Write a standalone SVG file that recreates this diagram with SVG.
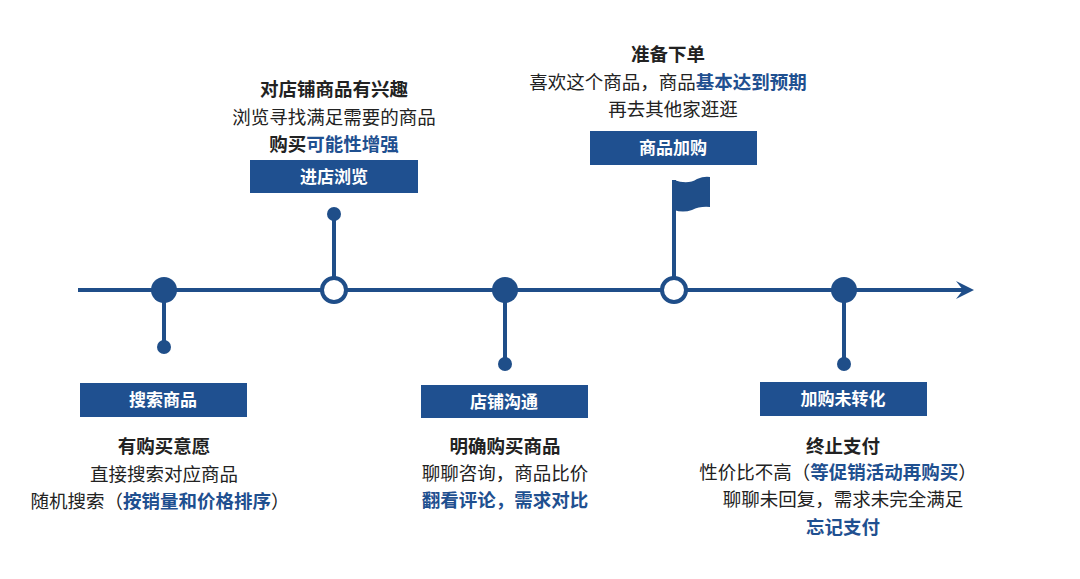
<svg xmlns="http://www.w3.org/2000/svg" width="1080" height="579" viewBox="0 0 1080 579">
<style>
.ln{stroke:#1f4e89;stroke-width:4;fill:none}
.dot{fill:#1f4e89}
.ring{fill:#fff;stroke:#1f4e89;stroke-width:4}
.box{fill:#1f5090}
.bt{fill:#fff;font:bold 17px "Noto Sans CJK SC",sans-serif;text-anchor:middle}
.t{fill:#222;font:18.5px "Noto Sans CJK SC",sans-serif;text-anchor:middle}
.h{font-weight:bold}
.b{fill:#1f5090;font-weight:bold}
</style>
<defs><marker id="ar" markerWidth="20" markerHeight="20" refX="14" refY="10" orient="auto" markerUnits="userSpaceOnUse"><path d="M0,1 L18,10 L0,19 L7,10 Z" fill="#1f4e89"/></marker></defs>
<rect width="1080" height="579" fill="#fff"/>
<g id="connectors">
<line class="ln" x1="78" y1="290" x2="970" y2="290" marker-end="url(#ar)"/>
<line class="ln" x1="164" y1="290" x2="164" y2="347"/>
<line class="ln" x1="334" y1="290" x2="334" y2="214"/>
<line class="ln" x1="505" y1="290" x2="505" y2="364"/>
<line class="ln" x1="674" y1="290" x2="674" y2="180"/>
<line class="ln" x1="844" y1="290" x2="844" y2="364"/>
</g>
<g id="n1"><circle class="dot" cx="164" cy="290" r="13"/><circle class="dot" cx="164" cy="347" r="7"/>
<rect class="box" x="80" y="383" width="167" height="34"/><text class="bt" x="163" y="406">搜索商品</text>
<text class="t h" x="164" y="453">有购买意愿</text><text class="t" x="164" y="481">直接搜索对应商品</text>
<text class="t" x="160" y="508">随机搜索（<tspan class="b">按销量和价格排序</tspan>）</text></g>
<g id="n2"><circle class="ring" cx="334" cy="290" r="12"/><circle class="dot" cx="334" cy="214" r="7"/>
<rect class="box" x="250" y="160" width="168" height="33"/><text class="bt" x="334" y="183">进店浏览</text>
<text class="t h" x="334" y="96">对店铺商品有兴趣</text><text class="t" x="334" y="124">浏览寻找满足需要的商品</text>
<text class="t h" x="334" y="151">购买<tspan class="b">可能性增强</tspan></text></g>
<g id="n3"><circle class="dot" cx="505" cy="290" r="13"/><circle class="dot" cx="505" cy="364" r="7"/>
<rect class="box" x="421" y="385" width="167" height="33"/><text class="bt" x="504" y="408">店铺沟通</text>
<text class="t h" x="505" y="453">明确购买商品</text><text class="t" x="505" y="480">聊聊咨询，商品比价</text>
<text class="t b" x="505" y="507">翻看评论，需求对比</text></g>
<g id="n4"><circle class="ring" cx="674" cy="290" r="12"/>
<path d="M674,180 Q688,185 697,179 Q704,176 710,177 L710,207 Q700,206 692,210 Q683,213 674,210 Z" class="dot"/>
<rect class="box" x="590" y="131" width="167" height="34"/><text class="bt" x="673" y="154">商品加购</text>
<text class="t h" x="668" y="61">准备下单</text><text class="t" x="668" y="89">喜欢这个商品，商品<tspan class="b">基本达到预期</tspan></text>
<text class="t" x="673" y="116">再去其他家逛逛</text></g>
<g id="n5"><circle class="dot" cx="844" cy="290" r="13"/><circle class="dot" cx="844" cy="364" r="7"/>
<rect class="box" x="760" y="382" width="167" height="34"/><text class="bt" x="843" y="405">加购未转化</text>
<text class="t h" x="843" y="453">终止支付</text><text class="t" x="838" y="479">性价比不高（<tspan class="b">等促销活动再购买</tspan>）</text>
<text class="t" x="843" y="506">聊聊未回复，需求未完全满足</text><text class="t b" x="843" y="534">忘记支付</text></g>
</svg>
